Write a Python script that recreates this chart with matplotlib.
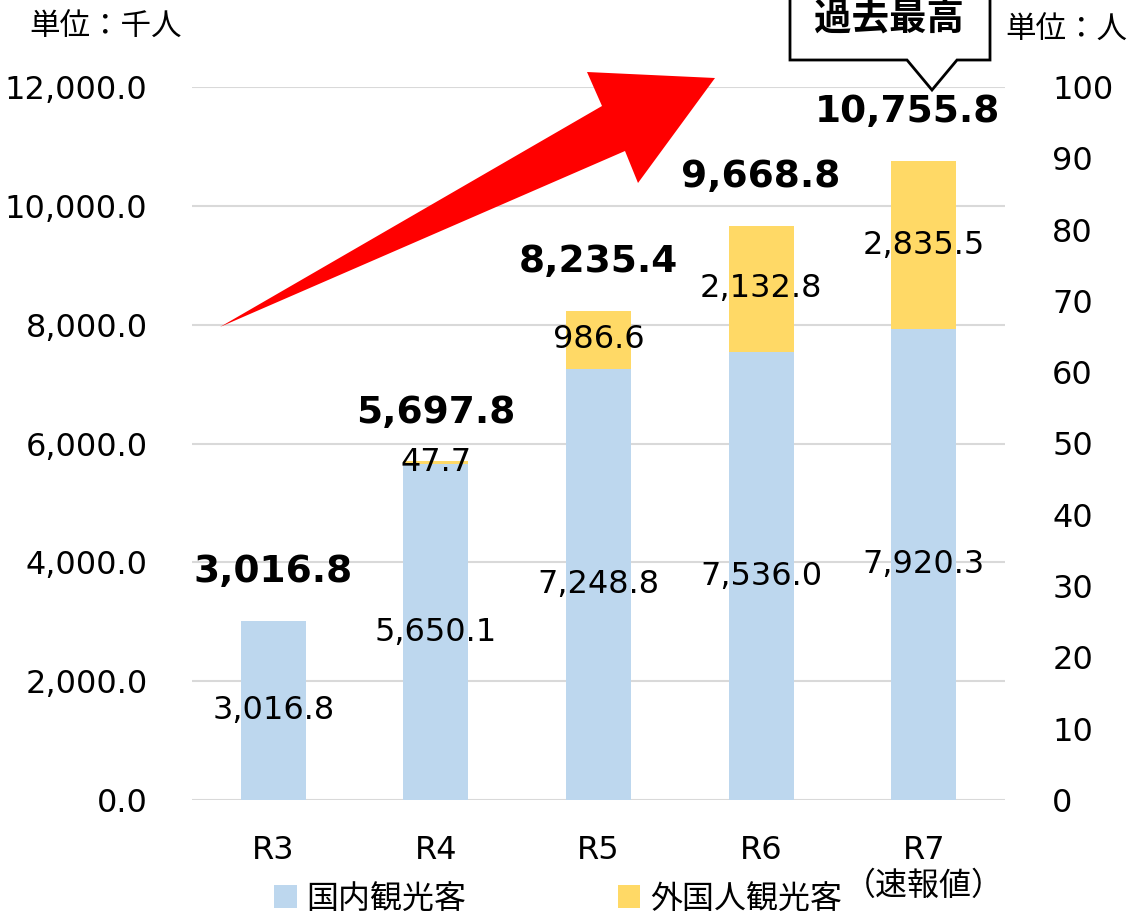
import matplotlib
matplotlib.use("Agg")
import matplotlib.pyplot as plt
from matplotlib.patches import Patch, Polygon
import numpy as np

# Verdana-like latin glyphs, CJK from Noto
plt.rcParams['font.family'] = ['DejaVu Sans', 'Noto Sans CJK JP']

# data
years = ["R3", "R4", "R5", "R6", "R7\n（速報値）"]
domestic = [3016.8, 5650.1, 7248.8, 7536.0, 7920.3]
foreign = [0.0, 47.7, 986.6, 2132.8, 2835.5]
totals = [3016.8, 5697.8, 8235.4, 9668.8, 10755.8]
left_ticks = [0, 2000, 4000, 6000, 8000, 10000, 12000]
right_ticks = [0, 10, 20, 30, 40, 50, 60, 70, 80, 90, 100]

BLUE = "#BDD7EE"
YELLOW = "#FFD966"
FS = 23

W, H = 1130, 919
fig = plt.figure(figsize=(W / 100, H / 100), dpi=100)
ax = fig.add_axes([192 / W, 1 - 800 / H, (1005 - 192) / W, (800 - 87) / H])

x = np.arange(len(years))
b1 = ax.bar(x, domestic, width=0.4, color=BLUE, zorder=2)
b2 = ax.bar(x, foreign, width=0.4, bottom=domestic, color=YELLOW, zorder=2)

ax.bar_label(b1, labels=[f"{v:,.1f}" for v in domestic], label_type='center',
             fontsize=FS, zorder=5)
ax.bar_label(b2, labels=[f"{v:,.1f}" if v > 0 else "" for v in foreign],
             label_type='center', fontsize=FS, zorder=5)

# total labels; last one nudged left like the original
for i, (xi, t) in enumerate(zip(x, totals)):
    dx = -12 if i == len(totals) - 1 else 0
    ax.annotate(f"{t:,.1f}", (xi, t), xytext=(dx, 35), textcoords='offset points',
                ha='center', va='center', fontsize=27, fontweight='bold')

ax.set_xlim(-0.5, len(years) - 0.5)
ax.set_ylim(0, 12000)
ax.set_yticks(left_ticks)
ax.set_yticklabels([f"{v:,.1f}" for v in left_ticks])
ax.set_xticks(x)
ax.set_xticklabels(years, linespacing=1.2)
ax.tick_params(axis='y', length=0, pad=32, labelsize=FS)
ax.tick_params(axis='x', length=0, pad=25, labelsize=FS)
ax.grid(axis='y', color='#D9D9D9', linewidth=1.5, zorder=0)
for s in ax.spines.values():
    s.set_visible(False)

ax2 = ax.twinx()
ax2.set_ylim(0, 100)
ax2.set_yticks(right_ticks)
ax2.tick_params(axis='y', length=0, pad=34, labelsize=FS)
for s in ax2.spines.values():
    s.set_visible(False)

# unit labels
fig.text(106 / W, 1 - 27 / H, "単位：千人", ha='center', va='center', fontsize=22)
fig.text(1066 / W, 1 - 30 / H, "単位：人", ha='center', va='center', fontsize=22)

# red arrow (decoration, figure pixels)
pts = [(220, 327), (602, 106), (587, 72), (715, 78), (638, 183), (625, 151)]
arrow = Polygon([(px / W, 1 - py / H) for px, py in pts], closed=True,
                transform=fig.transFigure, facecolor='#FF0000', edgecolor='none',
                zorder=10)
fig.patches.append(arrow)

# callout box
box = [(790, -5), (790, 60), (907, 60), (932, 90), (957, 60), (990, 60), (990, -5)]
callout = Polygon([(px / W, 1 - py / H) for px, py in box], closed=False,
                  transform=fig.transFigure, facecolor='white', edgecolor='black',
                  linewidth=2, zorder=10)
fig.patches.append(callout)
fig.text(889 / W, 1 - 20 / H, "過去最高", ha='center', va='center',
         fontsize=27, fontweight='bold', zorder=11)

# legend
handles = [Patch(facecolor=BLUE, label="国内観光客"),
           Patch(facecolor=YELLOW, label="外国人観光客")]
fig.legend(handles=handles, loc='center', bbox_to_anchor=(558 / W, 1 - 899 / H),
           ncol=2, frameon=False, fontsize=23, handlelength=0.7, handleheight=0.7,
           handletextpad=0.3, columnspacing=4.75, borderpad=0.2)

fig.savefig("out.png", dpi=100)
